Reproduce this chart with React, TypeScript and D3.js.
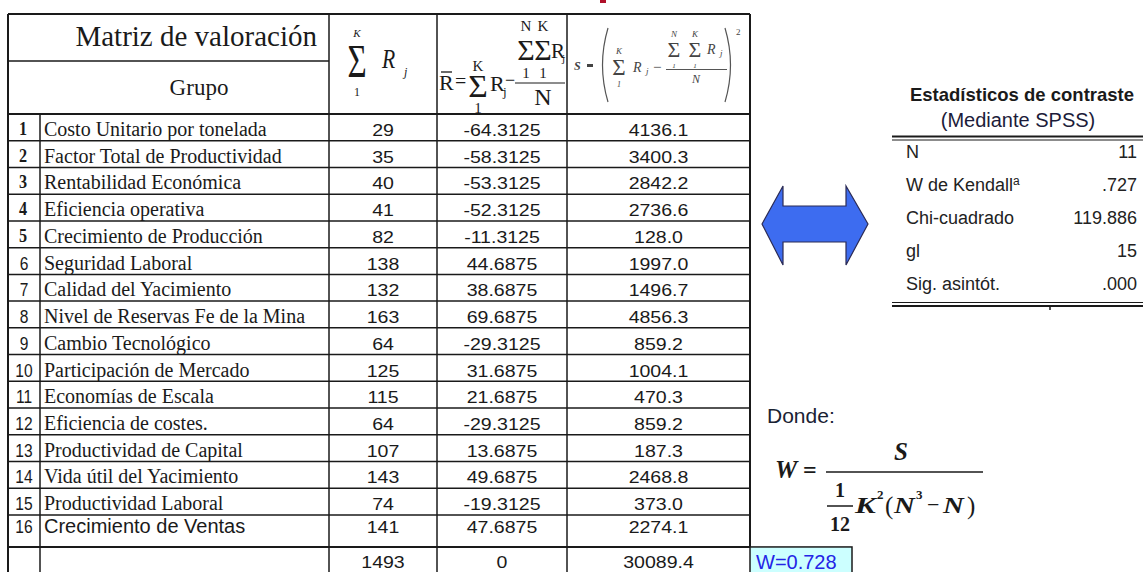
import React from "react";
import * as d3 from "d3";

// ---------- data ----------
const groups = [
  "Costo Unitario por tonelada",
  "Factor Total de Productividad",
  "Rentabilidad Económica",
  "Eficiencia operativa",
  "Crecimiento de Producción",
  "Seguridad Laboral",
  "Calidad del Yacimiento",
  "Nivel de Reservas Fe de la Mina",
  "Cambio Tecnológico",
  "Participación de Mercado",
  "Economías de Escala",
  "Eficiencia de costes.",
  "Productividad de Capital",
  "Vida útil del Yacimiento",
  "Productividad Laboral",
  "Crecimiento de Ventas",
];
const rankSums = [29, 35, 40, 41, 82, 138, 132, 163, 64, 125, 115, 64, 107, 143, 74, 141];
const deviations = [
  -64.3125, -58.3125, -53.3125, -52.3125, -11.3125, 44.6875, 38.6875, 69.6875,
  -29.3125, 31.6875, 21.6875, -29.3125, 13.6875, 49.6875, -19.3125, 47.6875,
];
const squares = [
  4136.1, 3400.3, 2842.2, 2736.6, 128.0, 1997.0, 1496.7, 4856.3,
  859.2, 1004.1, 470.3, 859.2, 187.3, 2468.8, 373.0, 2274.1,
];
const totals = [1493, 0, 30089.4];
const statLabels = ["N", "W de Kendall", "Chi-cuadrado", "gl", "Sig. asintót."];
const statValues = ["11", ".727", "119.886", "15", ".000"];
const wValue = 0.728;

// ---------- layout ----------
const W = 1143;
const H = 572;
const SERIF = "'Liberation Serif', 'Times New Roman', serif";
const SANS = "'Liberation Sans', Arial, sans-serif";
const INK = "#1a1a1a";

const loc = d3.formatLocale({ decimal: ".", thousands: ",", grouping: [3], currency: ["$", ""], minus: "-" });
const colFormats = [loc.format("d"), loc.format(".4f"), loc.format(".1f")];
const totalFormats = [loc.format("d"), loc.format("d"), loc.format(".1f")];

const colEdges = [8, 40, 329, 437, 567, 750];
const tableTop = 14;
const headerBottom = 114;
const rowHeights = groups.map((_, i) => (i === groups.length - 1 ? 32 : 26.73)).concat([30]);
const rowTops = [headerBottom, ...Array.from(d3.cumsum(rowHeights)).map((c) => headerBottom + c)];

const statY = d3.scalePoint<number>().domain(d3.range(statLabels.length)).range([158, 290]);

function Stretch({ x, y, sx, sy = 1, children, anchor = "middle", ...rest }: any) {
  return (
    <text transform={`translate(${x},${y}) scale(${sx},${sy})`} textAnchor={anchor} {...rest}>
      {children}
    </text>
  );
}

export default function App() {
  const valueCols = [rankSums, deviations, squares];
  const colCenters = [2, 3, 4].map((c) => (colEdges[c] + colEdges[c + 1]) / 2);
  const nRows = groups.length;
  const bottomY = H + 4;

  return (
    <svg
      width={W}
      height={H}
      viewBox={`0 0 ${W} ${H}`}
      style={{ position: "absolute", left: 0, top: 0, background: "#fff" }}
    >
      <rect x={0} y={0} width={W} height={H} fill="#fff" />
      {/* small red mark at top */}
      <rect x={600} y={0} width={6} height={3} fill="#b0102a" />

      {/* ----- main table grid ----- */}
      <g stroke={INK} fill="none">
        <line x1={colEdges[0]} x2={colEdges[5]} y1={tableTop} y2={tableTop} strokeWidth={2} />
        <line x1={colEdges[0]} x2={colEdges[2]} y1={61} y2={61} strokeWidth={1.5} />
        {rowTops.slice(0, nRows + 1).map((y, i) => (
          <line key={i} x1={colEdges[0]} x2={colEdges[5]} y1={y} y2={y} strokeWidth={i === 0 || i === nRows ? 2 : 1.5} />
        ))}
        <line x1={colEdges[0]} x2={colEdges[0]} y1={tableTop} y2={bottomY} strokeWidth={2} />
        <line x1={colEdges[1]} x2={colEdges[1]} y1={headerBottom} y2={bottomY} strokeWidth={1.5} />
        {[2, 3, 4].map((c) => (
          <line key={c} x1={colEdges[c]} x2={colEdges[c]} y1={tableTop} y2={bottomY} strokeWidth={1.5} />
        ))}
        <line x1={colEdges[5]} x2={colEdges[5]} y1={tableTop} y2={rowTops[nRows]} strokeWidth={2} />
      </g>

      {/* ----- header ----- */}
      <text x={317} y={46} textAnchor="end" fontFamily={SERIF} fontSize={29} fill={INK}>
        Matriz de valoración
      </text>
      <text x={199} y={95} textAnchor="middle" fontFamily={SERIF} fontSize={23} fill={INK}>
        Grupo
      </text>

      {/* Σ R_j */}
      <g fontFamily={SERIF} fill={INK}>
        <text x={357} y={37} textAnchor="middle" fontSize={11} fontStyle="italic">K</text>
        <Stretch x={357} y={77} sx={0.75} sy={1.05} fontSize={44}>Σ</Stretch>
        <text x={357} y={96} textAnchor="middle" fontSize={12}>1</text>
        <Stretch x={382} y={68} sx={0.8} anchor="start" fontSize={27} fontStyle="italic">R</Stretch>
        <text x={404} y={76} fontSize={12} fontStyle="italic">j</text>
      </g>

      {/* R̄ = Σ R_j - ΣΣR_j / N */}
      <g fontFamily={SERIF} fill={INK}>
        <text x={439} y={90} fontSize={22}>R</text>
        <line x1={441} x2={452} y1={72} y2={72} stroke={INK} strokeWidth={1.3} />
        <text x={455} y={88} fontSize={20}>=</text>
        <text x={478} y={71} textAnchor="middle" fontSize={15}>K</text>
        <Stretch x={478} y={97} sx={1.05} fontSize={32}>Σ</Stretch>
        <text x={478} y={113} textAnchor="middle" fontSize={15}>1</text>
        <text x={490} y={91} fontSize={22}>R</text>
        <text x={503} y={96} fontSize={13}>j</text>
        <text x={505} y={86} fontSize={18}>−</text>
        <line x1={515} x2={565} y1={83} y2={83} stroke={INK} strokeWidth={1} />
        <text x={526} y={31} textAnchor="middle" fontSize={15}>N</text>
        <text x={543} y={31} textAnchor="middle" fontSize={15}>K</text>
        <Stretch x={526} y={60} sx={1.0} fontSize={30}>Σ</Stretch>
        <Stretch x={543} y={60} sx={1.0} fontSize={30}>Σ</Stretch>
        <text x={526} y={78} textAnchor="middle" fontSize={15}>1</text>
        <text x={543} y={78} textAnchor="middle" fontSize={15}>1</text>
        <text x={551} y={58} fontSize={21}>R</text>
        <text x={562} y={62} fontSize={11}>j</text>
        <text x={543} y={105} textAnchor="middle" fontSize={24}>N</text>
      </g>

      {/* S = ( Σ R_j − ΣΣR_j / N )² */}
      <g fontFamily={SERIF} fill="#444" fontStyle="italic">
        <text x={574} y={70} fontSize={12} fontWeight="bold">S</text>
        <rect x={587} y={64} width={6} height={3} fill="#444" />
        <path d="M 608 28 Q 597 65 608 102" stroke="#555" strokeWidth={1.2} fill="none" />
        <text x={619} y={54} textAnchor="middle" fontSize={9}>K</text>
        <text x={619} y={75} textAnchor="middle" fontSize={23} fontStyle="normal">Σ</text>
        <text x={619} y={87} textAnchor="middle" fontSize={8}>1</text>
        <text x={633} y={72} fontSize={14}>R</text>
        <text x={646} y={74} fontSize={9}>j</text>
        <text x={653} y={72} fontSize={15} fontStyle="normal">−</text>
        <text x={674} y={37} textAnchor="middle" fontSize={9}>N</text>
        <text x={695} y={37} textAnchor="middle" fontSize={9}>K</text>
        <text x={674} y={57} textAnchor="middle" fontSize={22} fontStyle="normal">Σ</text>
        <text x={695} y={57} textAnchor="middle" fontSize={22} fontStyle="normal">Σ</text>
        <text x={674} y={68} textAnchor="middle" fontSize={7}>1</text>
        <text x={695} y={68} textAnchor="middle" fontSize={7}>1</text>
        <text x={707} y={54} fontSize={14}>R</text>
        <text x={720} y={56} fontSize={9}>j</text>
        <line x1={666} x2={727} y1={69.5} y2={69.5} stroke="#555" strokeWidth={1} />
        <text x={696} y={83} textAnchor="middle" fontSize={12}>N</text>
        <path d="M 725 28 Q 736 65 725 102" stroke="#555" strokeWidth={1.2} fill="none" />
        <text x={736} y={35} fontSize={9} fontStyle="normal">2</text>
      </g>

      {/* ----- body rows ----- */}
      {groups.map((g, i) => {
        const top = rowTops[i];
        const base = top + (i === nRows - 1 ? 18.5 : 22);
        const bold = i < 5;
        return (
          <g key={i}>
            {bold ? (
              <Stretch x={23} y={base - 1} sx={0.9} fontFamily={SERIF} fontWeight="bold" fontSize={18} fill={INK}>
                {i + 1}
              </Stretch>
            ) : (
              <Stretch x={24} y={base} sx={0.82} fontFamily={SANS} fontSize={19} fill={INK}>
                {i + 1}
              </Stretch>
            )}
            <text
              x={44}
              y={base}
              fontFamily={i === nRows - 1 ? SANS : SERIF}
              fontSize={20}
              fill={INK}
            >
              {g}
            </text>
            {valueCols.map((col, c) => (
              <Stretch key={c} x={colCenters[c]} y={base} sx={1.15} fontFamily={SANS} fontSize={17} fill={INK}>
                {colFormats[c](col[i])}
              </Stretch>
            ))}
          </g>
        );
      })}

      {/* totals row */}
      {totals.map((t, c) => (
        <Stretch key={c} x={colCenters[c]} y={rowTops[nRows] + 21} sx={1.15} fontFamily={SANS} fontSize={17} fill={INK}>
          {totalFormats[c](t)}
        </Stretch>
      ))}

      {/* W box */}
      <rect x={750} y={rowTops[nRows]} width={102} height={30} fill="#ccffff" stroke={INK} strokeWidth={1.5} />
      <text x={756} y={rowTops[nRows] + 22} fontFamily={SANS} fontSize={20} fill="#2424e6">
        {"W=" + d3.format(".3f")(wValue)}
      </text>

      {/* ----- double arrow ----- */}
      <polygon
        points="762,224 783,186 783,206 846,206 846,186 868,224 846,265 846,242 783,242 783,265"
        fill="#3d6cf0"
        stroke="#2b2b55"
        strokeWidth={1.2}
      />

      {/* ----- SPSS statistics table ----- */}
      <text x={1022} y={101} textAnchor="middle" fontFamily={SANS} fontWeight="bold" fontSize={18.5} fill={INK}>
        Estadísticos de contraste
      </text>
      <text x={1018} y={127} textAnchor="middle" fontFamily={SANS} fontSize={20} fill="#1c1c3a">
        (Mediante SPSS)
      </text>
      <g stroke={INK}>
        <line x1={892} x2={W} y1={136.5} y2={136.5} strokeWidth={2.2} />
        <line x1={892} x2={W} y1={140} y2={140} strokeWidth={1} />
        <line x1={892} x2={W} y1={302.5} y2={302.5} strokeWidth={1} />
        <line x1={892} x2={W} y1={306} y2={306} strokeWidth={2.2} />
        <line x1={1050} x2={1050} y1={306} y2={310} strokeWidth={1.5} />
      </g>
      {statLabels.map((l, i) => (
        <g key={l} fontFamily={SANS} fontSize={18} fill="#222">
          <text x={906} y={statY(i)}>
            {l}
            {i === 1 && (
              <tspan fontSize={12} dy={-6}>a</tspan>
            )}
          </text>
          <text x={1137} y={statY(i)} textAnchor="end">
            {statValues[i]}
          </text>
        </g>
      ))}

      {/* ----- Donde: formula ----- */}
      <text x={767} y={423} fontFamily={SANS} fontSize={21} fill="#1a2233">
        Donde:
      </text>
      <g fontFamily={SERIF} fontWeight="bold" fill={INK}>
        <text x={775} y={478} fontSize={25} fontStyle="italic">W</text>
        <text x={803} y={478} fontSize={24}>=</text>
        <text x={901} y={460} textAnchor="middle" fontSize={25} fontStyle="italic">S</text>
        <line x1={826} x2={983} y1={472} y2={472} stroke={INK} strokeWidth={1.3} />
        <text x={840} y={497} textAnchor="middle" fontSize={20}>1</text>
        <line x1={827} x2={853} y1={506} y2={506} stroke={INK} strokeWidth={1.5} />
        <text x={840} y={531} textAnchor="middle" fontSize={20}>12</text>
        <Stretch x={855} y={513} sx={1.3} anchor="start" fontSize={24} fontStyle="italic">K</Stretch>
        <text x={877} y={499} fontSize={13}>2</text>
        <text x={885} y={514} fontSize={25} fontWeight="normal">(</text>
        <Stretch x={894} y={513} sx={1.2} anchor="start" fontSize={24} fontStyle="italic">N</Stretch>
        <text x={916} y={499} fontSize={13}>3</text>
        <text x={927} y={512} fontSize={22} fontWeight="normal">−</text>
        <Stretch x={943} y={513} sx={1.2} anchor="start" fontSize={24} fontStyle="italic">N</Stretch>
        <text x={967} y={514} fontSize={25} fontWeight="normal">)</text>
      </g>
    </svg>
  );
}
